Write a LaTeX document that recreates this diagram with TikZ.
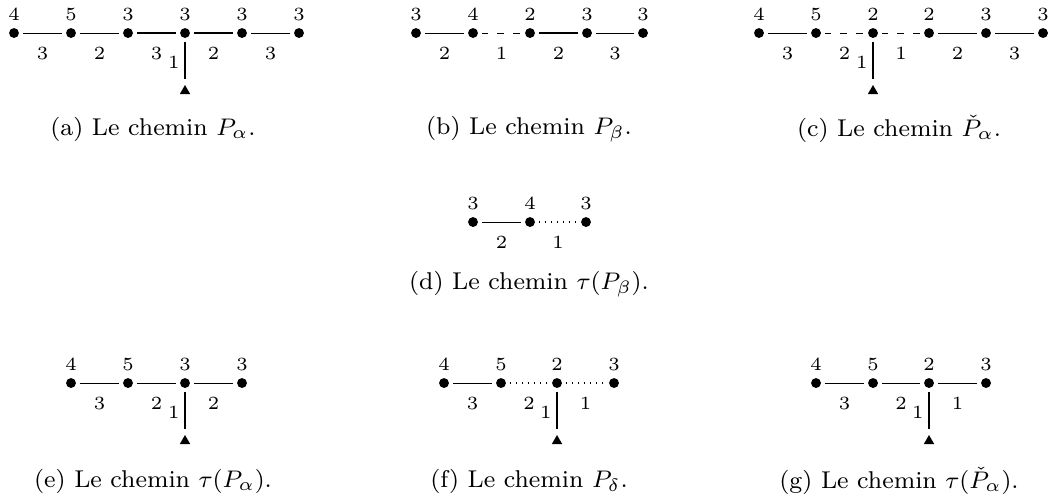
\documentclass[tikz,border=0pt]{standalone}
\usetikzlibrary{shapes.geometric}
\newcommand{\labfont}{\fontsize{6.2}{7}\selectfont}
\newcommand{\capfont}{\fontsize{8.1}{10}\selectfont}
\begin{document}
\begin{tikzpicture}[x=0.33333pt,y=-0.33333pt,
  dot/.style={circle,fill,inner sep=0pt,minimum size=3.3pt},
  lab/.style={font=\labfont,inner sep=0pt},
  tri/.style={regular polygon,regular polygon sides=3,fill,inner sep=0pt,minimum size=4pt},
  e/.style={line width=0.3pt,shorten <=1.1pt,shorten >=1.1pt},
  heavy/.style={e,line width=0.8pt},
  dsh/.style={e,dash pattern=on 2.2pt off 3pt},
  dtd/.style={e,line width=0.4pt,dash pattern=on 0.4pt off 1.6pt},
  elab/.style={midway,font=\labfont,inner sep=0pt,yshift=-6.7pt},
  vlab/.style={pos=0.52,left,font=\labfont,inner sep=1.7pt},
  vert/.style={line width=0.35pt,shorten <=1.1pt,shorten >=1.7pt},
  captext/.style={inner sep=0pt,font=\capfont},
  every label/.style={lab},
  label distance=2.1pt]
\useasboundingbox (0,0) rectangle (1058,497);

% (a)
\node[dot,label=90:4] (a1) at (14,33) {};
\node[dot,label=90:5] (a2) at (71,33) {};
\node[dot,label=90:3] (a3) at (128,33) {};
\node[dot,label=90:3] (a4) at (185,33) {};
\node[dot,label=90:3] (a5) at (242,33) {};
\node[dot,label=90:3] (a6) at (299,33) {};
\node[tri] (at) at (185,91) {};
\draw[e] (a1) -- node[elab] {3} (a2);
\draw[e] (a2) -- node[elab] {2} (a3);
\draw[heavy] (a3) -- node[elab] {3} (a4);
\draw[heavy] (a4) -- node[elab] {2} (a5);
\draw[e] (a5) -- node[elab] {3} (a6);
\draw[vert] (a4) -- node[vlab] {1} (at);
\node[captext] (capa) at (153,129) {(a) Le chemin $P_{\alpha}$.};

% (b)
\node[dot,label=90:3] (b1) at (416,33) {};
\node[dot,label=90:4] (b2) at (473,33) {};
\node[dot,label=90:2] (b3) at (530,33) {};
\node[dot,label=90:3] (b4) at (587,33) {};
\node[dot,label=90:3] (b5) at (643,33) {};
\draw[e] (b1) -- node[elab] {2} (b2);
\draw[dsh] (b2) -- node[elab] {1} (b3);
\draw[heavy] (b3) -- node[elab] {2} (b4);
\draw[e] (b4) -- node[elab] {3} (b5);
\node[captext] (capb) at (529,129) {(b) Le chemin $P_{\beta}$.};

% (c)
\node[dot,label=90:4] (c1) at (759,33) {};
\node[dot,label=90:5] (c2) at (816,33) {};
\node[dot,label=90:2] (c3) at (873,33) {};
\node[dot,label=90:2] (c4) at (929,33) {};
\node[dot,label=90:3] (c5) at (986,33) {};
\node[dot,label=90:3] (c6) at (1043,33) {};
\node[tri] (ct) at (873,91) {};
\draw[e] (c1) -- node[elab] {3} (c2);
\draw[dsh] (c2) -- node[elab] {2} (c3);
\draw[dsh] (c3) -- node[elab] {1} (c4);
\draw[e] (c4) -- node[elab] {2} (c5);
\draw[e] (c5) -- node[elab] {3} (c6);
\draw[vert] (c3) -- node[vlab] {1} (ct);
\node[captext] (capc) at (899,129) {(c) Le chemin $\check{P}_{\alpha}$.};

% (d)
\node[dot,label=90:3] (d1) at (473,222) {};
\node[dot,label=90:4] (d2) at (530,222) {};
\node[dot,label=90:3] (d3) at (586,222) {};
\draw[e] (d1) -- node[elab] {2} (d2);
\draw[dtd] (d2) -- node[elab] {1} (d3);
\node[captext] (capd) at (529,284) {(d) Le chemin $\tau(P_{\beta})$.};

% (e)
\node[dot,label=90:4] (e1) at (71,383) {};
\node[dot,label=90:5] (e2) at (128,383) {};
\node[dot,label=90:3] (e3) at (185,383) {};
\node[dot,label=90:3] (e4) at (242,383) {};
\node[tri] (et) at (185,441) {};
\draw[e] (e1) -- node[elab] {3} (e2);
\draw[e] (e2) -- node[elab] {2} (e3);
\draw[e] (e3) -- node[elab] {2} (e4);
\draw[vert] (e3) -- node[vlab] {1} (et);
\node[captext] (cape) at (153,481) {(e) Le chemin $\tau(P_{\alpha})$.};

% (f)
\node[dot,label=90:4] (f1) at (444,383) {};
\node[dot,label=90:5] (f2) at (501,383) {};
\node[dot,label=90:2] (f3) at (557,383) {};
\node[dot,label=90:3] (f4) at (614,383) {};
\node[tri] (ft) at (557,441) {};
\draw[e] (f1) -- node[elab] {3} (f2);
\draw[dtd] (f2) -- node[elab] {2} (f3);
\draw[dtd] (f3) -- node[elab] {1} (f4);
\draw[vert] (f3) -- node[vlab] {1} (ft);
\node[captext] (capf) at (529,481) {(f) Le chemin $P_{\delta}$.};

% (g)
\node[dot,label=90:4] (g1) at (816,383) {};
\node[dot,label=90:5] (g2) at (873,383) {};
\node[dot,label=90:2] (g3) at (929,383) {};
\node[dot,label=90:3] (g4) at (986,383) {};
\node[tri] (gt) at (929,441) {};
\draw[e] (g1) -- node[elab] {3} (g2);
\draw[e] (g2) -- node[elab] {2} (g3);
\draw[e] (g3) -- node[elab] {1} (g4);
\draw[vert] (g3) -- node[vlab] {1} (gt);
\node[captext] (capg) at (899,481) {(g) Le chemin $\tau(\check{P}_{\alpha})$.};
\end{tikzpicture}
\end{document}
